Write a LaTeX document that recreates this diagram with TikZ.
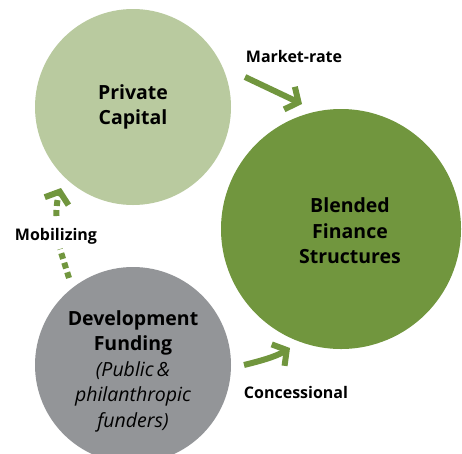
\documentclass[tikz,border=0pt]{standalone}
\usepackage{fontspec}
\setmainfont{Open Sans}
\usetikzlibrary{arrows.meta}
\definecolor{lightg}{HTML}{B9CA9F}
\definecolor{darkg}{HTML}{71963E}
\definecolor{greyc}{HTML}{939598}
\begin{document}
\begin{tikzpicture}[x=1pt,y=-1pt,
  circ/.style={circle,inner sep=0pt,draw=none,minimum size=#1},
  lbl/.style={font=\bfseries\fontsize{19.5}{25.5}\selectfont,align=center,text=black},
  small/.style={font=\bfseries\fontsize{16}{18}\selectfont,text=black},
  flow/.style={draw=darkg,line width=6pt,-{Straight Barb[length=10pt,width=25pt,sharp]}},
  dotted flow/.style={flow,dash pattern=on 6pt off 4pt}]
\useasboundingbox (0,0) rectangle (462,453);

\node[circ=196,fill=lightg] (pc) at (133,107) {};
\node[circ=240,fill=darkg] (bf) at (341,229) {};
\node[circ=196,fill=greyc] (df) at (133,365) {};

\node[lbl] (pct) at (133,107) {Private\\Capital};
\node[lbl] (bft) at (350,231) {Blended\\Finance\\Structures};
\node[lbl] (dft) at (133,371) {Development\\Funding\\{\mdseries\itshape(Public\,\&}\\{\mdseries\itshape philanthropic}\\{\mdseries\itshape funders)}};

\node[small] (mr) at (294,56) {Market-rate};
\node[small] (mob) at (56,236) {Mobilizing};
\node[small] (con) at (296,392) {Concessional};

\coordinate (m1) at (245,77);
\coordinate (m2) at (302,104);
\draw[flow] (m1) -- (m2);

\coordinate (c1) at (244,365);
\coordinate (c2) at (290,348);
\draw[flow] (c1) .. controls (260,361) and (275,357) .. (c2);

\coordinate (d1) at (69,278);
\coordinate (d2) at (60,249);
\coordinate (d3) at (56.5,216);
\coordinate (d4) at (61,188);
\draw[draw=darkg,line width=6pt,dash pattern=on 6pt off 4pt] (d1) -- (d2);
\draw[dotted flow] (d3) .. controls (56,206) and (58,197) .. (d4);
\end{tikzpicture}
\end{document}
